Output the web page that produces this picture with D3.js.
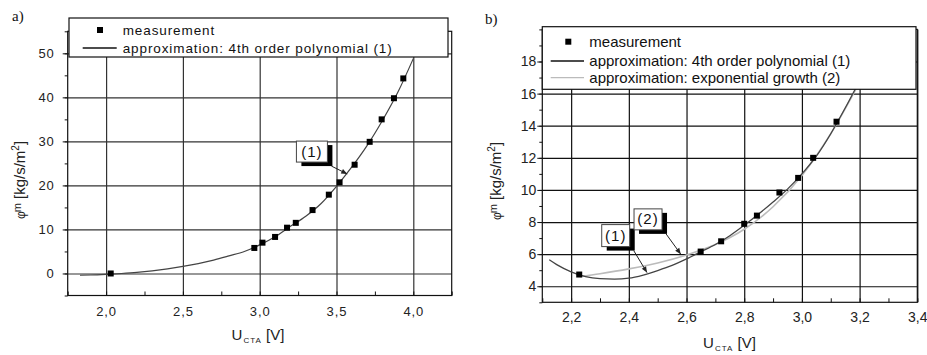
<!DOCTYPE html>
<html>
<head>
<meta charset="utf-8">
<script src="https://cdn.jsdelivr.net/npm/d3@7"></script>
<style>
body { margin: 0; background: #fff; }
text { font-family: "Liberation Sans", Arial, sans-serif; }
</style>
</head>
<body>
<script>
// ---- panel a) data ----
const aMeasX = [2.03, 2.965, 3.018, 3.10, 3.178, 3.235, 3.344, 3.45, 3.52, 3.618, 3.716, 3.794, 3.874, 3.935];
const aMeasY = [0.0, 5.8, 7.0, 8.3, 10.4, 11.5, 14.4, 17.9, 20.7, 24.7, 29.9, 35.0, 39.8, 44.3];
const aPolyX = [1.83, 1.9, 2.0, 2.1, 2.2, 2.3, 2.4, 2.5, 2.6, 2.7, 2.8, 2.9, 3.0, 3.1, 3.2, 3.3, 3.4, 3.5, 3.6, 3.7, 3.8, 3.9, 4.0];
const aPolyY = [-0.4, -0.35, -0.2, 0.0, 0.25, 0.6, 1.05, 1.6, 2.25, 3.05, 4.0, 5.0, 6.5, 8.35, 10.7, 13.0, 15.9, 19.8, 24.2, 29.1, 34.8, 41.2, 48.8];
const aTicksX = [2.0, 2.5, 3.0, 3.5, 4.0];
const aTicksY = [0, 10, 20, 30, 40, 50];
const aLegend = ["measurement", "approximation: 4th order polynomial (1)"];

// ---- panel b) data ----
const bMeasX = [2.228, 2.649, 2.72, 2.80, 2.844, 2.922, 2.987, 3.039, 3.12];
const bMeasY = [4.73, 6.16, 6.8, 7.89, 8.4, 9.84, 10.75, 12.0, 14.25];
const bPolyX = [2.124, 2.15, 2.2, 2.25, 2.3, 2.35, 2.4, 2.45, 2.5, 2.55, 2.6, 2.65, 2.7, 2.75, 2.8, 2.85, 2.9, 2.95, 3.0, 3.05, 3.1, 3.15, 3.2];
const bPolyY = [5.65, 5.35, 4.9, 4.6, 4.47, 4.44, 4.5, 4.7, 4.98, 5.3, 5.7, 6.15, 6.6, 7.15, 7.8, 8.5, 9.25, 10.05, 11.0, 12.1, 13.5, 15.1, 16.8];
const bExpX = [2.23, 2.3, 2.4, 2.5, 2.6, 2.7, 2.8, 2.9, 3.0, 3.1, 3.2];
const bExpY = [4.6, 4.78, 5.08, 5.45, 5.95, 6.6, 7.55, 8.95, 10.9, 13.5, 16.7];
const bTicksX = [2.2, 2.4, 2.6, 2.8, 3.0, 3.2, 3.4];
const bTicksY = [4, 6, 8, 10, 12, 14, 16, 18];
const bLegend = ["measurement", "approximation: 4th order polynomial (1)", "approximation: exponential growth (2)"];

const svg = d3.select("body").append("svg")
  .attr("width", 927)
  .attr("height", 355);

svg.append("rect").attr("width", 927).attr("height", 355).attr("fill", "#fff");

function drawPanel(p) {
  const x = d3.scaleLinear().domain(p.xDomain).range([p.left, p.right]);
  const y = d3.scaleLinear().domain(p.yDomain).range([p.bottom, p.top]);
  const g = svg.append("g");
  const w = p.right - p.left, h = p.bottom - p.top;

  // grid lines
  g.append("g").attr("transform", `translate(0,${p.bottom})`)
    .call(d3.axisBottom(x).tickValues(p.xTicks).tickSize(-h).tickFormat(""))
    .call(s => s.select(".domain").remove())
    .selectAll("line").attr("stroke", p.grid).attr("stroke-width", 1.2);
  g.append("g").attr("transform", `translate(${p.left},0)`)
    .call(d3.axisLeft(y).tickValues(p.yTicks).tickSize(-w).tickFormat(""))
    .call(s => s.select(".domain").remove())
    .selectAll("line").attr("stroke", p.grid).attr("stroke-width", 1.2);

  // frame
  g.append("rect").attr("x", p.left).attr("y", p.top).attr("width", w).attr("height", h)
    .attr("fill", "none").attr("stroke", "#111").attr("stroke-width", 1.2);

  // minor ticks
  g.append("g").attr("transform", `translate(0,${p.bottom})`)
    .call(d3.axisBottom(x).tickValues(p.xMinor).tickSize(-4).tickSizeOuter(0).tickFormat(""))
    .call(s => s.select(".domain").remove())
    .selectAll("line").attr("stroke", "#111");
  g.append("g").attr("transform", `translate(${p.left},0)`)
    .call(d3.axisLeft(y).tickValues(p.yMinor).tickSize(3).tickSizeOuter(0).tickFormat(""))
    .call(s => s.select(".domain").remove())
    .selectAll("line").attr("stroke", "#111");
  g.append("g").attr("transform", `translate(${p.left},0)`)
    .call(d3.axisLeft(y).tickValues(p.yTicks).tickSize(5).tickSizeOuter(0).tickFormat(""))
    .call(s => s.select(".domain").remove())
    .selectAll("line").attr("stroke", "#111");

  // tick labels
  const xl = g.append("g").attr("transform", `translate(0,${p.bottom})`)
    .call(d3.axisBottom(x).tickValues(p.xTicks).tickSize(0).tickPadding(p.xPad).tickFormat(p.xFmt));
  const yl = g.append("g").attr("transform", `translate(${p.left},0)`)
    .call(d3.axisLeft(y).tickValues(p.yTicks).tickSize(0).tickPadding(p.yPad).tickFormat(p.yFmt));
  [xl, yl].forEach(a => {
    a.select(".domain").remove();
    a.selectAll("text").style("font-family", "Liberation Sans, Arial, sans-serif")
      .attr("font-size", p.tickFont).attr("fill", "#222").style("letter-spacing", p.spacing + "px");
  });

  // curves
  const line = d3.line().x(d => x(d[0])).y(d => y(d[1])).curve(d3.curveMonotoneX);
  p.curves.forEach(c => {
    g.append("path").datum(d3.zip(c.xs, c.ys)).attr("d", line)
      .attr("fill", "none").attr("stroke", c.color).attr("stroke-width", c.width);
  });

  // measurement squares
  g.selectAll("rect.pt").data(d3.zip(p.measX, p.measY)).join("rect")
    .attr("class", "pt")
    .attr("x", d => x(d[0]) - p.ms / 2).attr("y", d => y(d[1]) - p.ms / 2)
    .attr("width", p.ms).attr("height", p.ms).attr("fill", "#000");

  // callouts
  p.callouts.forEach(c => {
    const bx = x(c.bx), by = y(c.by);
    const tx = x(c.tx), ty = y(c.ty);
    const sx = bx + c.w + 4, sy = by + c.h + 4;
    g.append("rect").attr("x", bx + 5).attr("y", by + 4).attr("width", c.w).attr("height", c.h).attr("fill", "#000");
    g.append("rect").attr("x", bx).attr("y", by).attr("width", c.w).attr("height", c.h)
      .attr("fill", "#fff").attr("stroke", "#444").attr("stroke-width", 1);
    g.append("text").attr("x", bx + c.w / 2).attr("y", by + c.h / 2 + 5)
      .attr("text-anchor", "middle").attr("font-size", 15).attr("fill", "#111")
      .style("letter-spacing", "1px").text(c.label);
    const ang = Math.atan2(ty - sy, tx - sx);
    g.append("line").attr("x1", sx).attr("y1", sy).attr("x2", tx).attr("y2", ty)
      .attr("stroke", "#222").attr("stroke-width", 1);
    const hl = 6, hw = 2.5;
    const p1 = [tx - hl * Math.cos(ang) + hw * Math.sin(ang), ty - hl * Math.sin(ang) - hw * Math.cos(ang)];
    const p2 = [tx - hl * Math.cos(ang) - hw * Math.sin(ang), ty - hl * Math.sin(ang) + hw * Math.cos(ang)];
    g.append("path").attr("d", `M${tx},${ty}L${p1}L${p2}Z`).attr("fill", "#222");
  });

  // legend
  const L = p.legend;
  g.append("rect").attr("x", L.x).attr("y", L.y).attr("width", L.w).attr("height", L.h)
    .attr("fill", "#fff").attr("stroke", "#111").attr("stroke-width", 1.2);
  L.items.forEach((it, i) => {
    const cy = L.rows[i];
    if (it.kind === "sq") {
      g.append("rect").attr("x", L.symX - 3).attr("y", cy - 3).attr("width", 6).attr("height", 6).attr("fill", "#000");
    } else {
      g.append("line").attr("x1", L.lineX[0]).attr("x2", L.lineX[1]).attr("y1", cy).attr("y2", cy)
        .attr("stroke", it.color).attr("stroke-width", 1.3);
    }
    g.append("text").attr("x", L.textX).attr("y", cy + 5).attr("font-size", L.font).attr("fill", "#111")
      .style("letter-spacing", p.spacing + "px").text(it.text);
  });

  // axis titles
  const xt = g.append("text").attr("x", p.xTitle[0]).attr("y", p.xTitle[1]).attr("text-anchor", "middle")
    .attr("font-size", 15).attr("fill", "#222");
  xt.append("tspan").text("U");
  xt.append("tspan").attr("font-size", 8).attr("dy", 3).attr("dx", 1).style("letter-spacing", "1px").text("CTA");
  xt.append("tspan").attr("dy", -3).text(" [V]");

  const yt = g.append("text").attr("transform", `translate(${p.yTitle[0]},${p.yTitle[1]}) rotate(-90)`)
    .attr("text-anchor", "middle").attr("font-size", 15).attr("fill", "#222");
  yt.append("tspan").attr("font-size", 12).text("φ");
  yt.append("tspan").attr("font-size", 11).attr("dy", -4).attr("dx", -1).text("m");
  yt.append("tspan").attr("dy", 4).text(" [kg/s/m");
  yt.append("tspan").attr("font-size", 10).attr("dy", -6).text("2");
  yt.append("tspan").attr("dy", 6).text("]");

  svg.append("text").attr("x", p.tag[0]).attr("y", p.tag[1])
    .style("font-family", "'Liberation Serif', 'Times New Roman', serif").attr("font-size", 15).attr("fill", "#111")
    .text(p.tagText);
}

const comma = f => v => d3.format(f)(v).replace(".", ",");

drawPanel({
  xDomain: [1.75, 4.25], yDomain: [-5, 55],
  left: 67.7, right: 451.7, top: 31.3, bottom: 295.5,
  xTicks: aTicksX, yTicks: aTicksY,
  xMinor: d3.range(1.75, 4.3, 0.25), yMinor: d3.range(-5, 56, 5),
  xFmt: comma(".1f"), yFmt: d3.format("d"),
  xPad: 11, yPad: 13, tickFont: 13, spacing: 0.9, grid: "#333",
  curves: [{ xs: aPolyX, ys: aPolyY, color: "#444", width: 1.2 }],
  measX: aMeasX, measY: aMeasY, ms: 6,
  callouts: [{ label: "(1)", bx: 3.239, by: 30.07, w: 31, h: 21, tx: 3.57, ty: 22.6 }],
  legend: {
    x: 69, y: 18, w: 379, h: 39, rows: [30, 48], font: 13.5,
    symX: 100, lineX: [82.7, 116.7], textX: 122.7,
    items: [{ kind: "sq", text: aLegend[0] }, { kind: "ln", color: "#111", text: aLegend[1] }]
  },
  xTitle: [258, 340], yTitle: [25, 180],
  tag: [12, 21], tagText: "a)"
});

drawPanel({
  xDomain: [2.1, 3.4], yDomain: [3, 20],
  left: 542.3, right: 917.3, top: 29.4, bottom: 302.3,
  xTicks: bTicksX, yTicks: bTicksY,
  xMinor: d3.range(2.1, 3.45, 0.1), yMinor: d3.range(3, 20.5, 1),
  xFmt: comma(".1f"), yFmt: d3.format("d"),
  xPad: 9.5, yPad: 6, tickFont: 14, spacing: 0, grid: "#111",
  curves: [
    { xs: bExpX, ys: bExpY, color: "#bbb", width: 1.6 },
    { xs: bPolyX, ys: bPolyY, color: "#444", width: 1.3 }
  ],
  measX: bMeasX, measY: bMeasY, ms: 6,
  callouts: [
    { label: "(1)", bx: 2.306, by: 7.84, w: 28, h: 22, tx: 2.463, ty: 4.85 },
    { label: "(2)", bx: 2.418, by: 8.82, w: 28, h: 21, tx: 2.58, ty: 6.0 }
  ],
  legend: {
    x: 542.3, y: 26.7, w: 373.7, h: 62.6, rows: [41.7, 61, 77.7], font: 15,
    symX: 568.3, lineX: [550.7, 584], textX: 589.3,
    items: [{ kind: "sq", text: bLegend[0] }, { kind: "ln", color: "#111", text: bLegend[1] },
            { kind: "ln", color: "#bbb", text: bLegend[2] }]
  },
  xTitle: [729.5, 348], yTitle: [501, 181],
  tag: [485, 24], tagText: "b)"
});
</script>
</body>
</html>
